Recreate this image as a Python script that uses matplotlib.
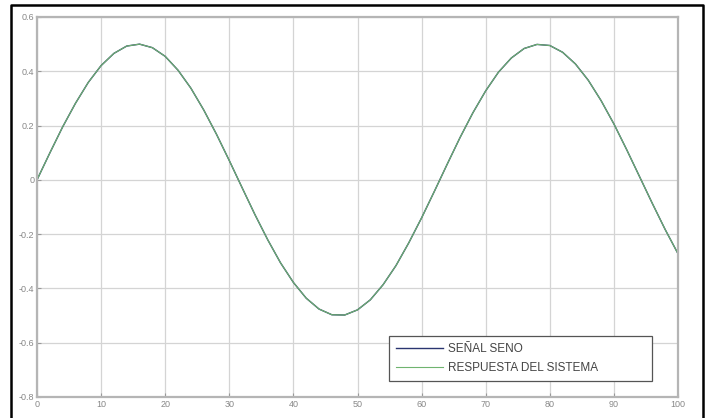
import matplotlib
matplotlib.use("Agg")
import matplotlib.pyplot as plt
from matplotlib.lines import Line2D

# values, every 2 units of x
x = [0, 2, 4, 6, 8, 10, 12, 14, 16, 18, 20, 22, 24, 26, 28, 30, 32, 34, 36, 38,
     40, 42, 44, 46, 48, 50, 52, 54, 56, 58, 60, 62, 64, 66, 68, 70, 72, 74, 76,
     78, 80, 82, 84, 86, 88, 90, 92, 94, 96, 98, 100]
senal = [0.000, 0.099, 0.195, 0.282, 0.359, 0.421, 0.466, 0.493, 0.500, 0.487,
         0.455, 0.404, 0.338, 0.258, 0.168, 0.071, -0.029, -0.128, -0.221, -0.306,
         -0.378, -0.436, -0.476, -0.497, -0.498, -0.479, -0.442, -0.386, -0.316,
         -0.232, -0.140, -0.042, 0.058, 0.156, 0.247, 0.328, 0.397, 0.449, 0.484,
         0.499, 0.495, 0.470, 0.427, 0.367, 0.292, 0.206, 0.111, 0.012, -0.087,
         -0.183, -0.272]
respuesta = list(senal)

xticks = [0, 10, 20, 30, 40, 50, 60, 70, 80, 90, 100]
yticks = [-0.8, -0.6, -0.4, -0.2, 0, 0.2, 0.4, 0.6]
ylabels = ["-0.8", "-0.6", "-0.4", "-0.2", "0", "0.2", "0.4", "0.6"]

plt.rcParams['font.family'] = ['Liberation Sans', 'DejaVu Sans']

fig = plt.figure(figsize=(7.12, 4.18), dpi=100)
ax = fig.add_axes([37 / 712, 1 - 397 / 418, 641 / 712, 380 / 418])

ax.plot(x, senal, color="#2a3570", lw=1.0, label="SEÑAL SENO")
ax.plot(x, respuesta, color="#6fb46f", lw=0.8, label="RESPUESTA DEL SISTEMA")

ax.set_xlim(0, 100)
ax.set_ylim(-0.8, 0.6)
ax.set_xticks(xticks)
ax.set_yticks(yticks)
ax.set_yticklabels(ylabels)
ax.tick_params(direction="in", length=3, colors="#999999", labelsize=6.5,
               labelcolor="#888888", pad=2, width=0.8)
ax.grid(True, color="#d4d4d4", lw=0.9)
for s in ax.spines.values():
    s.set_color("#b5b5b5")
    s.set_linewidth(1.6)

leg = ax.legend(loc="lower left", bbox_to_anchor=(0.54, 0.027, 0.429, 0.121),
                mode="expand", fontsize=8.5, handlelength=4.0, handletextpad=0.4,
                borderpad=0.6, labelspacing=0.6, fancybox=False, framealpha=1)
leg.get_frame().set_edgecolor("#555555")
leg.get_frame().set_linewidth(0.9)
for t in leg.get_texts():
    t.set_color("#444444")

# outer black frame of the screenshot (bottom edge is cut off)
fx = [11 / 712, 11 / 712, 703 / 712, 703 / 712]
fy = [0, 1 - 5 / 418, 1 - 5 / 418, 0]
fig.add_artist(Line2D(fx, fy, color="black", lw=1.8, transform=fig.transFigure))

fig.savefig("out.png", dpi=100)
